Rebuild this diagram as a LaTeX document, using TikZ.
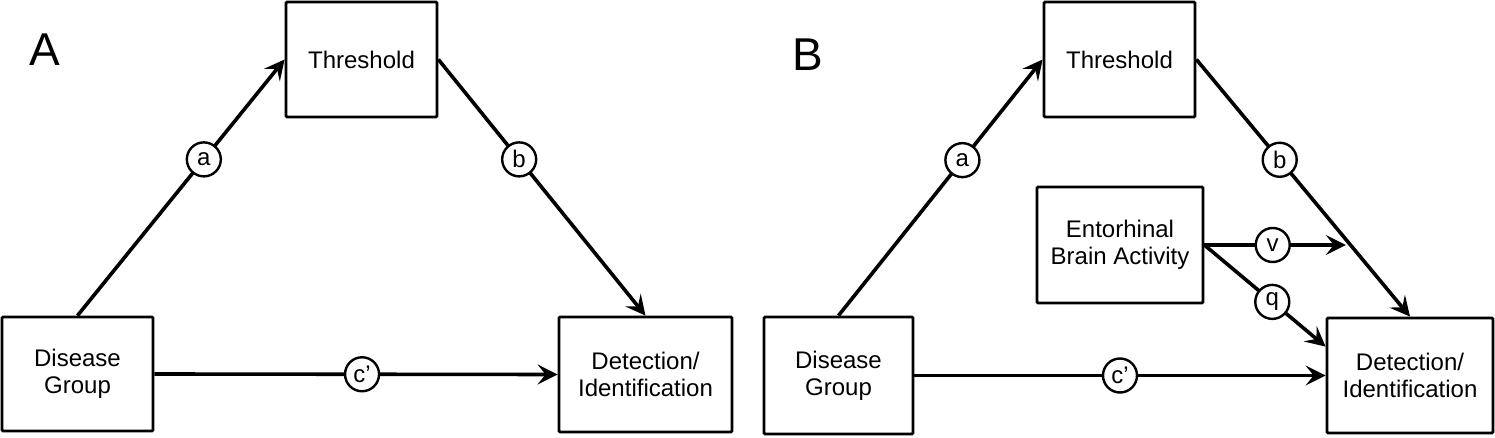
\documentclass[tikz,border=0pt]{standalone}
\usepackage{fontspec}
\setmainfont{Liberation Sans}
\usetikzlibrary{arrows.meta,calc}
\tikzset{
  box/.style={draw, line width=1.4pt, rounded corners=0.6pt, align=center, inner sep=0pt,
              font=\fontsize{12}{13.5}\selectfont},
  conn/.style={line width=1.8pt, -{Stealth[length=10pt,width=10pt,inset=4pt]}},
  lbl/.style={circle, draw, fill=white, line width=1.2pt, minimum size=17pt, inner sep=0pt,
              font=\fontsize{12}{12}\selectfont},
  panel/.style={font=\fontsize{23}{23}\selectfont, inner sep=0pt}
}
\begin{document}
\begin{tikzpicture}[x=0.5pt, y=-0.5pt]
\useasboundingbox (0,0) rectangle (1495,438);
% Panel A
\node[panel] (labA) at (45,50) {A};
\node[box, minimum width=75.5pt, minimum height=57.5pt] (thA) at (361.5,59.5) {Threshold};
\node[box, minimum width=75.5pt, minimum height=57pt] (disA) at (77.5,374) {Disease\\Group};
\node[box, minimum width=86.5pt, minimum height=57.5pt] (detA) at (645.5,374.5) {Detection/\\Identification};
\draw[conn] (disA.north) -- node[lbl, pos=0.61] (aA) {a} (thA.west);
\draw[conn] (thA.east) -- node[lbl, pos=0.39] (bA) {b} (detA.north);
\draw[conn] (disA.east) -- node[lbl, pos=0.515] (cA) {c’} (detA.west);
% Panel B
\node[panel] (labB) at (808,55) {B};
\node[box, minimum width=75.5pt, minimum height=57.5pt] (thB) at (1119.5,59.5) {Threshold};
\node[box, minimum width=74.5pt, minimum height=58.5pt] (disB) at (838.5,375.5) {Disease\\Group};
\node[box, minimum width=83pt, minimum height=58pt] (entB) at (1120,245) {Entorhinal\\Brain Activity};
\node[box, minimum width=83pt, minimum height=57.5pt] (detB) at (1410,375.5) {Detection/\\Identification};
\draw[conn] (disB.north) -- node[lbl, pos=0.607] (aB) {a} (thB.west);
\draw[conn] (thB.east) -- node[lbl, pos=0.39] (bB) {b} (detB.north);
\draw[conn] (disB.east) -- node[lbl, pos=0.5] (cB) {c’} (detB.west);
\coordinate (bMid) at ($(thB.east)!0.718!(detB.north)$);
\coordinate (vEnd) at (entB.east -| bMid);
\coordinate (qEnd) at ($(detB.north west)+(0,30)$);
\draw[conn, shorten >=2pt] (entB.east) -- node[lbl, pos=0.47] (vB) {v} (vEnd);
\draw[conn] (entB.east) -- node[lbl, pos=0.56] (qB) {q} (qEnd);
\end{tikzpicture}
\end{document}
